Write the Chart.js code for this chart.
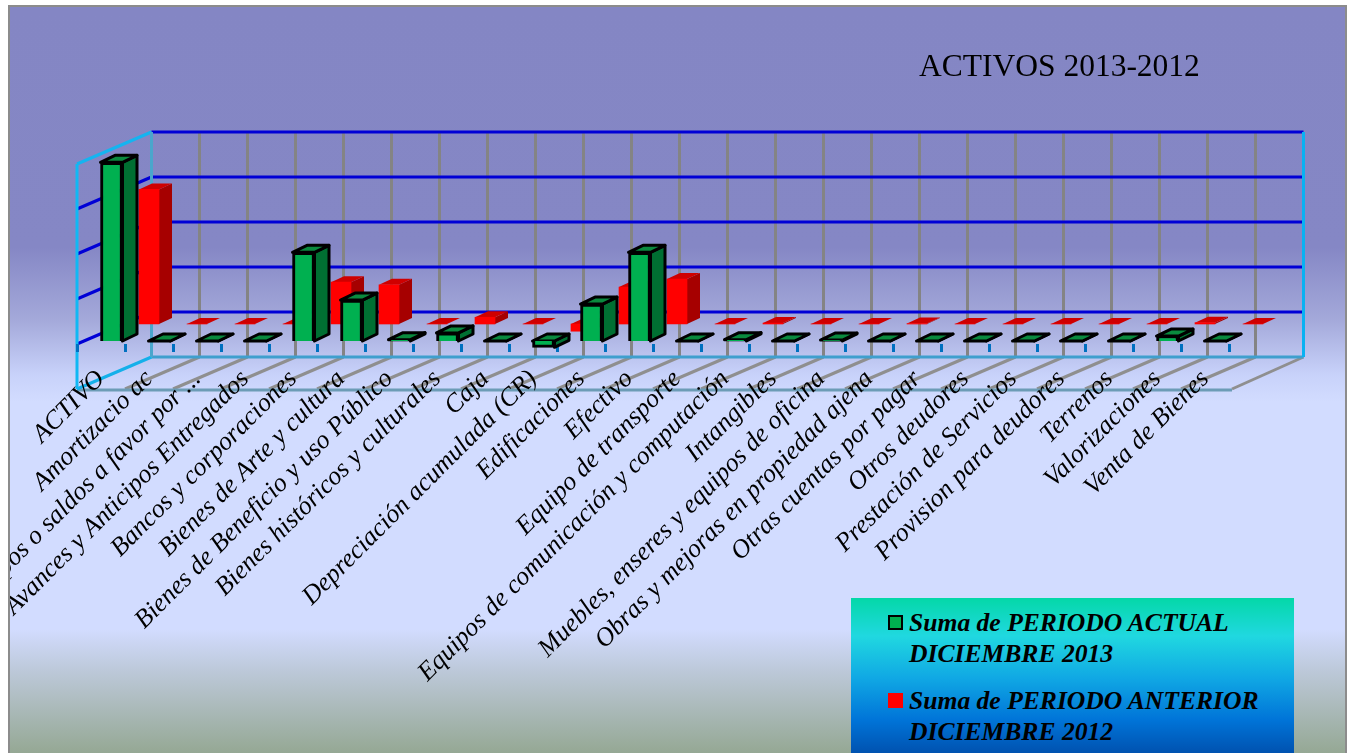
<!DOCTYPE html>
<html>
<head>
<meta charset="utf-8">
<title>ACTIVOS 2013-2012</title>
<script src="https://cdn.jsdelivr.net/npm/chart.js@4/dist/chart.umd.min.js"></script>
<style>
    html, body { margin: 0; padding: 0; background: #fff; overflow: hidden; }
    #frame {
        position: absolute; left: 8px; top: 5px; width: 1339px; height: 760px;
        box-sizing: border-box; border: 2px solid #8c8c8c; overflow: hidden;
        background: linear-gradient(to bottom, #8486c4 0px, #8587c5 240px, #a4a9da 313px, #c8d2fa 368px,
            #d2dcff 395px, #d2dcff 622px, #bcc8d8 665px, #95a894 746px);
    }
    #reportChart { position: absolute; left: -10px; top: -7px; }
    #chartTitle {
        position: absolute; left: 909px; top: 41px; color: #000;
        font: 31.5px "Liberation Serif", serif; white-space: nowrap;
    }
    #legendBox {
        position: absolute; left: 841px; top: 591px; width: 443px; height: 155px;
        background: linear-gradient(to bottom, #04d8a8 0px, #20d8e0 38px, #10a8e4 80px, #0074d8 122px, #0052b0 155px);
    }
    .legendText {
        position: absolute; left: 58px; color: #000;
        font: italic bold 25.6px/31px "Liberation Serif", serif; white-space: pre-line;
    }
    .legendMark { position: absolute; left: 37px; width: 15px; height: 15px; box-sizing: border-box; }
</style>
</head>
<body>
<div id="frame"><canvas id="reportChart" width="1348" height="753"></canvas></div>
<script>
const categories = [
    "ACTIVO", "Amortizacio ac", "Anticipos o saldos a favor por ...", "Avances y Anticipos Entregados",
    "Bancos y corporaciones", "Bienes de Arte y cultura", "Bienes de Beneficio y uso Público",
    "Bienes históricos y culturales", "Caja", "Depreciación acumulada (CR)", "Edificaciones", "Efectivo",
    "Equipo de transporte", "Equipos de comunicación y computación", "Intangibles",
    "Muebles, enseres y equipos de oficina", "Obras y mejoras en propiedad ajena", "Otras cuentas por pagar",
    "Otros deudores", "Prestación de Servicios", "Provision para deudores", "Terrenos", "Valorizaciones",
    "Venta de Bienes"
];

// values, in gridline units (the axis has no labels)
const periodoActual = [3.97, 0, 0, 0, 1.97, 0.91, 0.03, 0.18, 0, -0.14, 0.82, 1.97, 0, 0.03, 0, 0.02, 0, 0, 0, 0, 0, 0, 0.11, 0];
const periodoAnterior = [2.99, 0, 0, 0, 0.93, 0.87, 0, 0.15, 0, -0.16, 0.82, 1.0, 0, 0.02, 0, 0, 0.01, 0, 0, 0, 0, 0, 0.03, 0];

const labelActual = "Suma de PERIODO ACTUAL\nDICIEMBRE 2013";
const labelAnterior = "Suma de PERIODO ANTERIOR\nDICIEMBRE 2012";

const yMin = -1;
const yMax = 4;

// how far the box goes back, in pixels
const boxDepthX = 74.5;
const boxDepthY = -32;

const frame = document.getElementById("frame");
const canvas = document.getElementById("reportChart");

function line(ctx, x1, y1, x2, y2, color, width) {
    ctx.beginPath();
    ctx.moveTo(x1, y1);
    ctx.lineTo(x2, y2);
    ctx.strokeStyle = color;
    ctx.lineWidth = width;
    ctx.stroke();
}

const boxPlugin = {
    id: "box",
    beforeDraw(chart) {
        const ctx = chart.ctx;
        const x = chart.scales.x;
        const y = chart.scales.y;
        const left = x.getPixelForValue(-0.5);
        const right = x.getPixelForValue(categories.length - 0.5);
        const bottom = y.getPixelForValue(yMin);
        ctx.save();

        // floor and back wall verticals
        for (let i = 1; i <= categories.length; i++) {
            const px = x.getPixelForValue(i - 0.5);
            if (i < categories.length) {
                line(ctx, px + boxDepthX, y.getPixelForValue(yMax) + boxDepthY, px + boxDepthX, bottom + boxDepthY, "#848484", 3);
            }
            line(ctx, px + boxDepthX, bottom + boxDepthY, px + (i === categories.length ? 3 : 0), bottom, "#8f8f8f", 3);
        }

        // horizontal gridlines on the back wall and the left wall
        y.ticks.forEach(function (tick) {
            const py = y.getPixelForValue(tick.value);
            if (tick.value === yMin) {
                return;
            }
            line(ctx, left + boxDepthX, py + boxDepthY, right + boxDepthX, py + boxDepthY, "#0000d6", 3);
            line(ctx, left, py, left + boxDepthX, py + boxDepthY, tick.value === yMax ? "#14b4f0" : "#0000d6", 3);
        });

        // box edges
        line(ctx, left + boxDepthX, bottom + boxDepthY, right + boxDepthX, bottom + boxDepthY, "#3f9fce", 3);
        line(ctx, left, bottom + 1, right + 3, bottom + 1, "#6c9cb6", 3);
        line(ctx, left, bottom, left + boxDepthX, bottom + boxDepthY, "#14b0ea", 3);
        line(ctx, left, y.getPixelForValue(yMax), left, bottom, "#10b8f4", 3);
        line(ctx, left + boxDepthX, y.getPixelForValue(yMax) + boxDepthY, left + boxDepthX, bottom + boxDepthY, "#4aa6cc", 3);
        line(ctx, right + boxDepthX, y.getPixelForValue(yMax) + boxDepthY, right + boxDepthX, bottom + boxDepthY, "#08b2f2", 3);
        ctx.restore();
    },
    beforeDatasetDraw(chart, args) {
        const dataset = chart.data.datasets[args.index];
        const ctx = chart.ctx;
        ctx.save();
        ctx.translate(dataset.shiftX, dataset.shiftY);

        // sides and tops of the bars, the front face is the normal bar element
        args.meta.data.forEach(function (bar) {
            const p = bar.getProps(["x", "y", "base", "width"], true);
            const l = p.x - p.width / 2;
            const r = p.x + p.width / 2;
            const top = Math.min(p.y, p.base);
            const bot = Math.max(p.y, p.base);
            const dx = dataset.barDepthX;
            const dy = dataset.barDepthY;

            ctx.lineJoin = "round";
            ctx.lineWidth = dataset.borderWidth;
            ctx.strokeStyle = dataset.borderColor;

            ctx.beginPath();
            ctx.moveTo(r, top);
            ctx.lineTo(r + dx, top + dy);
            ctx.lineTo(r + dx, bot + dy);
            ctx.lineTo(r, bot);
            ctx.closePath();
            ctx.fillStyle = dataset.sideColor;
            ctx.fill();
            if (dataset.borderWidth > 0) {
                ctx.stroke();
            }

            ctx.beginPath();
            ctx.moveTo(l, top);
            ctx.lineTo(l + dx, top + dy);
            ctx.lineTo(r + dx, top + dy);
            ctx.lineTo(r, top);
            ctx.closePath();
            ctx.fillStyle = dataset.topColor;
            ctx.fill();
            if (dataset.borderWidth > 0) {
                ctx.stroke();
            }
        });
    },
    afterDatasetDraw(chart) {
        chart.ctx.restore();
    }
};

new Chart(canvas, {
    type: "bar",
    data: {
        labels: categories,
        datasets: [{
            label: labelActual,
            data: periodoActual,
            backgroundColor: "#00b050",
            borderColor: "#000000",
            borderWidth: 3,
            barThickness: 22,
            grouped: false,
            clip: false,
            sideColor: "#006f32",
            topColor: "#0a8a3e",
            shiftX: 10.5,
            shiftY: -3,
            barDepthX: 14.5,
            barDepthY: -7
        }, {
            label: labelAnterior,
            data: periodoAnterior,
            backgroundColor: "#ff0000",
            borderColor: "#ff0000",
            borderWidth: 0,
            barThickness: 20,
            grouped: false,
            clip: false,
            sideColor: "#a60000",
            topColor: "#cf0000",
            shiftX: 48,
            shiftY: -20,
            barDepthX: 13,
            barDepthY: -6
        }]
    },
    options: {
        responsive: false,
        animation: false,
        layout: {
            padding: { left: 77, right: 119, top: 164, bottom: 364 }
        },
        plugins: {
            legend: { display: false },
            title: { display: false },
            tooltip: { enabled: false }
        },
        scales: {
            x: {
                position: { y: 0 },
                offset: true,
                grid: {
                    offset: true,
                    drawOnChartArea: false,
                    tickColor: "#0070c0",
                    tickWidth: 3,
                    tickLength: 8
                },
                border: { display: false },
                ticks: {
                    autoSkip: false,
                    minRotation: 45,
                    maxRotation: 45,
                    padding: 12,
                    labelOffset: 0,
                    color: "#000000",
                    font: { family: "Liberation Serif", size: 26, style: "italic" }
                },
                afterFit(scale) {
                    // long rotated labels must not squeeze the plot
                    scale.paddingLeft = 0;
                    scale.paddingRight = 0;
                    scale.paddingTop = 0;
                    scale.paddingBottom = 0;
                }
            },
            y: {
                display: false,
                min: yMin,
                max: yMax,
                ticks: { stepSize: 1 }
            }
        }
    },
    plugins: [boxPlugin]
});

// title and legend, placed where the reference has them
const chartTitle = document.createElement("div");
chartTitle.id = "chartTitle";
chartTitle.textContent = "ACTIVOS 2013-2012";
frame.appendChild(chartTitle);

const legendBox = document.createElement("div");
legendBox.id = "legendBox";
frame.appendChild(legendBox);

const legendRows = [
    { text: labelActual, top: 9, markTop: 17, fill: "#00b050", edge: "2px solid #000" },
    { text: labelAnterior, top: 87, markTop: 95, fill: "#ff0000", edge: "none" }
];
legendRows.forEach(function (row) {
    const mark = document.createElement("div");
    mark.className = "legendMark";
    mark.style.top = row.markTop + "px";
    mark.style.background = row.fill;
    mark.style.border = row.edge;
    legendBox.appendChild(mark);

    const text = document.createElement("div");
    text.className = "legendText";
    text.style.top = row.top + "px";
    text.textContent = row.text;
    legendBox.appendChild(text);
});
</script>
</body>
</html>
